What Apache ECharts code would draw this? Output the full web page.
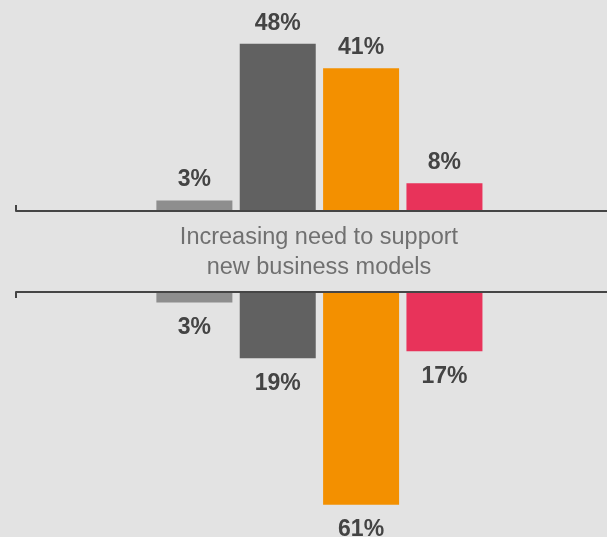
<!DOCTYPE html>
<html>
<head>
<meta charset="utf-8">
<script src="https://cdn.jsdelivr.net/npm/echarts@6/dist/echarts.min.js"></script>
<style>
  html, body { margin: 0; padding: 0; background: #e3e3e3; }
  #chart { width: 607px; height: 537px; }
</style>
</head>
<body>
<div id="chart"></div>
<script>
// Four response groups, shown above and below the shared caption
const categories = ['Group 1', 'Group 2', 'Group 3', 'Group 4'];
const upperValues = [3, 48, 41, 8];
const lowerValues = [3, 19, 61, 17];
const palette = ['#8e8e8e', '#616161', '#f39000', '#e8335a'];
const caption = 'Increasing need to support\nnew business models';

const toPoints = vals => vals.map((v, i) => [i, v]);
const labelFont = {
  fontFamily: 'Liberation Sans, Arial, sans-serif',
  fontWeight: 'bold',
  fontSize: 23,
  color: '#444444',
  formatter: p => p.value[1] + '%'
};

const X_MIN = -2.14;
const X_MAX = 4.95;

const baseX = (grid, pos) => ({
  type: 'value',
  gridIndex: grid,
  position: pos,
  min: X_MIN,
  max: X_MAX,
  z: 5,
  axisLine: { show: true, onZero: false, lineStyle: { color: '#454545', width: 2 } },
  axisTick: {
    show: true, inside: true, length: 6,
    customValues: [X_MIN],
    lineStyle: { color: '#454545', width: 2 }
  },
  axisLabel: { show: false },
  splitLine: { show: false }
});

const chart = echarts.init(document.getElementById('chart'), null, { renderer: 'canvas' });
chart.setOption({
  backgroundColor: '#e3e3e3',
  animation: false,
  grid: [
    { left: 16, right: 0, top: 2, height: 209 },
    { left: 16, right: 0, top: 292, height: 244 }
  ],
  xAxis: [baseX(0, 'bottom'), baseX(1, 'top')],
  yAxis: [
    { type: 'value', gridIndex: 0, min: 0, max: 60, show: false },
    { type: 'value', gridIndex: 1, min: 0, max: 70, inverse: true, show: false }
  ],
  series: [
    {
      type: 'bar',
      name: 'upper',
      xAxisIndex: 0,
      yAxisIndex: 0,
      barWidth: 76,
      data: toPoints(upperValues),
      itemStyle: { color: p => palette[p.dataIndex] },
      label: Object.assign({ show: true, position: 'top', distance: 9 }, labelFont)
    },
    {
      type: 'bar',
      name: 'lower',
      xAxisIndex: 1,
      yAxisIndex: 1,
      barWidth: 76,
      data: toPoints(lowerValues),
      itemStyle: { color: p => palette[p.dataIndex] },
      label: Object.assign({ show: true, position: 'bottom', distance: 14 }, labelFont)
    }
  ],
  graphic: [
    {
      type: 'text',
      x: 319,
      y: 253,
      style: {
        text: caption,
        fill: '#707070',
        font: '23.5px "Liberation Sans", Arial, sans-serif',
        lineHeight: 30,
        align: 'center',
        verticalAlign: 'middle'
      }
    }
  ]
});
</script>
</body>
</html>
